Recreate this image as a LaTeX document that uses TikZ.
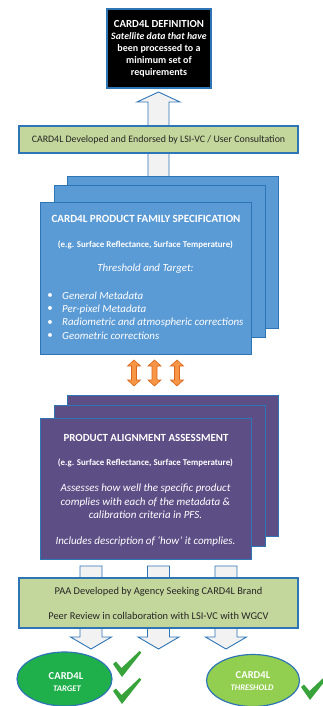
\documentclass[tikz,border=0pt]{standalone}
\usepackage{fontspec}
\setmainfont{Carlito}
\usetikzlibrary{shapes.geometric}
\definecolor{bord}{HTML}{2E75B6}
\definecolor{bluefill}{HTML}{5B9BD5}
\definecolor{purplefill}{HTML}{5E4E86}
\definecolor{bannerfill}{HTML}{C3D69B}
\definecolor{darkgreen}{HTML}{1FAF4B}
\definecolor{lightgreen}{HTML}{92CE4F}
\definecolor{checkgreen}{HTML}{38A33A}
\definecolor{arrowfill}{HTML}{F2F2F2}
\definecolor{orangefill}{HTML}{F79646}
\definecolor{orangeline}{HTML}{D9661A}
\definecolor{bannertext}{HTML}{262626}
\tikzset{
  hollow/.style={draw=bord, fill=arrowfill, line width=0.9pt, line join=miter},
  dbl/.style={draw=orangeline, fill=orangefill, line width=0.6pt},
  defbox/.style={draw=bord, fill=black, line width=1.2pt, minimum width=104pt, minimum height=79pt, inner sep=0pt, align=center, text=white},
  banner/.style={draw=bord, fill=bannerfill, line width=1.2pt, minimum width=279pt, inner sep=0pt, align=center, text=bannertext},
  bluecard/.style={draw=bord, fill=bluefill, line width=1.2pt, minimum width=211pt, minimum height=152pt, inner sep=0pt, anchor=north west},
  purplecard/.style={draw=bord, fill=purplefill, line width=1.2pt, minimum width=211pt, minimum height=141pt, inner sep=0pt, anchor=north west},
  cardtxt/.style={text=white, inner sep=0pt},
  oval/.style={ellipse, draw=bord, line width=1.2pt, inner sep=0pt, align=center, text=white},
  chk/.pic={\fill[checkgreen] (0,13) -- (3,10.5) -- (8.5,17) -- (26.5,0) -- (28.3,1.6) -- (9,26) -- cycle;}
}
\begin{document}
\begin{tikzpicture}[x=1pt,y=-1pt]
\useasboundingbox (0,0) rectangle (322,706);
% top hollow arrow
\draw[hollow] (148,178) -- (148,102) -- (137,102) -- (158.5,92) -- (180,102) -- (169,102) -- (169,178) -- cycle;
% definition box
\node[defbox, font=\bfseries] (def) at (159,48.5)
  {\fontsize{10.8}{12.6}\selectfont CARD4L DEFINITION\\
   \fontsize{9.8}{12.6}\selectfont\itshape Satellite data that have\\ been processed to a\\ minimum set of\\ requirements};
% banner 1
\node[banner, minimum height=27pt, font=\fontsize{9.9}{11}\selectfont] (ban1) at (158.5,139.5)
  {CARD4L Developed and Endorsed by LSI-VC / User Consultation};
% blue stack
\node[bluecard] (pfs3) at (67,176) {};
\node[bluecard] (pfs2) at (54,185) {};
\node[bluecard] (pfs1) at (40,202) {};
\node[cardtxt, font=\fontsize{11}{12}\selectfont\bfseries] (pfst) at (146,219) {CARD4L PRODUCT FAMILY SPECIFICATION};
\node[cardtxt, font=\fontsize{8.9}{10}\selectfont\bfseries] (pfse) at (145.5,245) {(e.g. Surface Reflectance, Surface Temperature)};
\node[cardtxt, font=\fontsize{10.9}{12}\selectfont\itshape] (pfsth) at (145.5,269) {Threshold and Target:};
\foreach \yy/\tt [count=\i] in {296/General Metadata, 309.3/Per-pixel Metadata, 322.6/Radiometric and atmospheric corrections, 336/Geometric corrections}{
  \node[cardtxt, font=\fontsize{10.9}{12}\selectfont] (pb\i) at (50,\yy) {\textbullet};
  \node[cardtxt, anchor=west, font=\fontsize{10.9}{12}\selectfont\itshape] (pi\i) at (62,\yy) {\tt};
}
% orange double arrows
\foreach \cx in {134,154.5,177}{
  \draw[dbl] ({\cx-2.5},366) -- ({\cx-6.5},366) -- (\cx,360) -- ({\cx+6.5},366) -- ({\cx+2.5},366) -- ({\cx+2.5},380) -- ({\cx+6.5},380) -- (\cx,386) -- ({\cx-6.5},380) -- ({\cx-2.5},380) -- cycle;
}
% purple stack
\node[purplecard] (paa3) at (67,395) {};
\node[purplecard] (paa2) at (54,405) {};
\node[purplecard] (paa1) at (40,418) {};
\node[cardtxt, font=\fontsize{10.9}{12}\selectfont\bfseries] (paat) at (146,438) {PRODUCT ALIGNMENT ASSESSMENT};
\node[cardtxt, font=\fontsize{8.9}{10}\selectfont\bfseries] (paae) at (145.5,463) {(e.g. Surface Reflectance, Surface Temperature)};
\node[cardtxt, align=center, font=\fontsize{11}{13.5}\selectfont\itshape] (paad) at (145.5,501.5)
  {Assesses how well the specific product\\ complies with each of the metadata \&\\ calibration criteria in PFS.};
\node[cardtxt, font=\fontsize{11}{12}\selectfont\itshape] (paai) at (145.5,541) {Includes description of ‘how’ it complies.};
% bottom hollow arrows
\foreach \cx in {91,158.5,226}{
  \draw[hollow] ({\cx-11},566) -- ({\cx-11},637) -- ({\cx-20.5},637) -- (\cx,649) -- ({\cx+20.5},637) -- ({\cx+11},637) -- ({\cx+11},566) -- cycle;
}
% banner 2
\node[banner, minimum height=50pt, font=\fontsize{10.4}{25}\selectfont] (ban2) at (158.5,603)
  {PAA Developed by Agency Seeking CARD4L Brand\\ Peer Review in collaboration with LSI-VC with WGCV};
% ellipses
\node[oval, fill=darkgreen, minimum width=95pt, minimum height=54pt] (tgt) at (64.5,679) {};
\node[cardtxt, font=\fontsize{10.6}{12}\selectfont\bfseries] (tgt1) at (66,676) {CARD4L};
\node[cardtxt, font=\fontsize{8.6}{9}\selectfont\bfseries\itshape] (tgt2) at (67,688.5) {TARGET};
\node[oval, fill=lightgreen, minimum width=93pt, minimum height=52pt] (thr) at (253,680.5) {};
\node[cardtxt, font=\fontsize{10.6}{12}\selectfont\bfseries] (thr1) at (253,675) {CARD4L};
\node[cardtxt, font=\fontsize{8.6}{9}\selectfont\bfseries\itshape] (thr2) at (252,688) {THRESHOLD};
% checks
\pic at (113,651) {chk};
\pic at (113,678) {chk};
\pic at (301,674) {chk};
\end{tikzpicture}
\end{document}
